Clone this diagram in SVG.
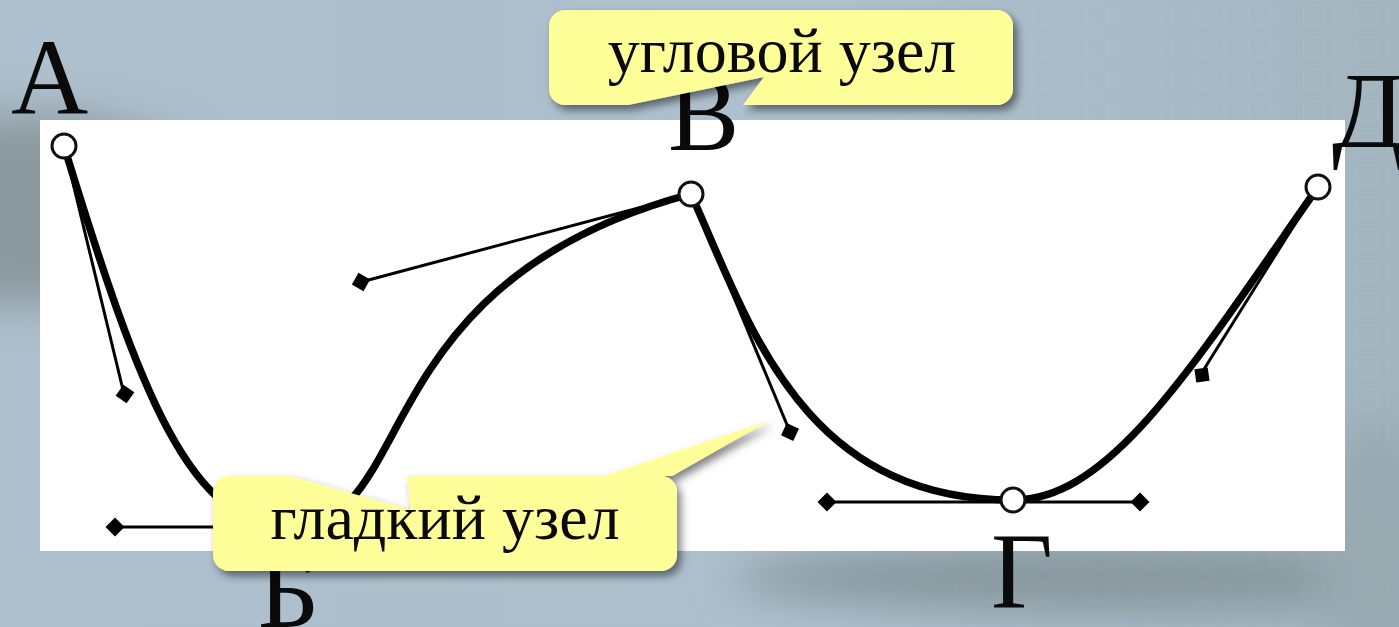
<svg xmlns="http://www.w3.org/2000/svg" width="1399" height="627" viewBox="0 0 1399 627">
<style>
.lbl{font-family:"Liberation Serif","Times New Roman",serif;font-size:107px;fill:#0a0a0a}
.cap{font-family:"Liberation Serif","Times New Roman",serif;font-size:64px;fill:#0a0a0a}
.curve{fill:none;stroke:#000;stroke-width:7.500;stroke-linecap:round}
.handle{fill:none;stroke:#000;stroke-width:3}
.node{fill:#fff;stroke:#111;stroke-width:3}
.callout{fill:#ffff99;filter:url(#sh)}
</style>
<defs>
<filter id="sh" x="-10%" y="-20%" width="120%" height="140%"><feDropShadow dx="4" dy="5" stdDeviation="4.500" flood-color="#000" flood-opacity=".5"/></filter>
<filter id="bl" x="-60%" y="-60%" width="220%" height="220%"><feGaussianBlur stdDeviation="22"/></filter>
<linearGradient id="bg" x1="0" y1="0" x2="1" y2="0"><stop offset="0" stop-color="#aebfcd"/><stop offset=".6" stop-color="#adc0cd"/><stop offset="1" stop-color="#a2b5bf"/></linearGradient>
<pattern id="bin" width="54" height="32" patternUnits="userSpaceOnUse" x="1030" y="1">
<rect x="3" y="4" width="21" height="20" rx="5" fill="none" stroke="#fff" stroke-opacity=".045" stroke-width="2"/>
<path d="M34 6V24" stroke="#fff" stroke-opacity=".045" stroke-width="2"/>
</pattern>
<path id="d" d="M0 -9.500L9.500 0L0 9.500L-9.500 0Z"/>
</defs>
<g id="background">
<rect width="1399" height="627" fill="url(#bg)"/>
<ellipse cx="30" cy="210" rx="190" ry="95" fill="#8a999f" filter="url(#bl)"/>
<ellipse cx="1090" cy="578" rx="360" ry="32" fill="#86959b" filter="url(#bl)"/>
<ellipse cx="1375" cy="540" rx="60" ry="120" fill="#98a9b0" filter="url(#bl)"/>
<rect x="1020" y="0" width="379" height="440" fill="url(#bin)"/>
<rect x="860" y="550" width="539" height="60" fill="url(#bin)" opacity=".5"/>
<rect x="40" y="120" width="1305" height="431" fill="#fff"/>
</g>
<g id="connectors">
<path class="handle" d="M64 146L124 394"/>
<path class="handle" d="M115 527H290"/>
<path class="handle" d="M361 282L691 194"/>
<path class="handle" d="M691 194L790 432"/>
<path class="handle" d="M827 502H1139"/>
<path class="handle" d="M1318 187L1201 374"/>
<path class="curve" d="M64 146C140 394 190 527 290 527C420 527 360 282 691 194"/>
<path class="curve" d="M691 194C748 320 800 500 1013 500C1110 500 1190 370 1318 187"/>
<g fill="#000">
<use href="#d" transform="translate(125 394) rotate(-10)"/>
<use href="#d" x="115" y="527"/>
<use href="#d" transform="translate(361 282) rotate(-15)"/>
<use href="#d" transform="translate(790 432) rotate(-20)"/>
<use href="#d" x="827" y="502"/>
<use href="#d" x="1140" y="502"/>
<use href="#d" transform="translate(1202 375) rotate(37)"/>
</g>
</g>
<g id="node-a"><circle class="node" cx="64" cy="146" r="12"/><text class="lbl" x="11" y="114">А</text></g>
<g id="node-b"><text class="lbl" x="258" y="627">Б</text></g>
<g id="node-v"><circle class="node" cx="691" cy="194" r="12"/><text class="lbl" x="668" y="150">В</text></g>
<g id="node-g"><circle class="node" cx="1013" cy="500" r="12"/><text class="lbl" x="991" y="607">Г</text></g>
<g id="node-d"><circle class="node" cx="1318" cy="187" r="12"/><text class="lbl" x="1332" y="147">Д</text></g>
<g id="callout-corner">
<path class="callout" d="M565 10H997a16 16 0 0 1 16 16V89a16 16 0 0 1 -16 16H743L764 77L628 105H565a16 16 0 0 1 -16 -16V26a16 16 0 0 1 16 -16Z"/>
<text class="cap" x="782" y="72" text-anchor="middle">угловой узел</text>
</g>
<g id="callout-smooth">
<path class="callout" d="M229 476H290L411 510L407 476H604L770 420L672 476H661a16 16 0 0 1 16 16V555a16 16 0 0 1 -16 16H229a16 16 0 0 1 -16 -16V492a16 16 0 0 1 16 -16Z"/>
<text class="cap" x="445" y="539" text-anchor="middle">гладкий узел</text>
</g>
</svg>
